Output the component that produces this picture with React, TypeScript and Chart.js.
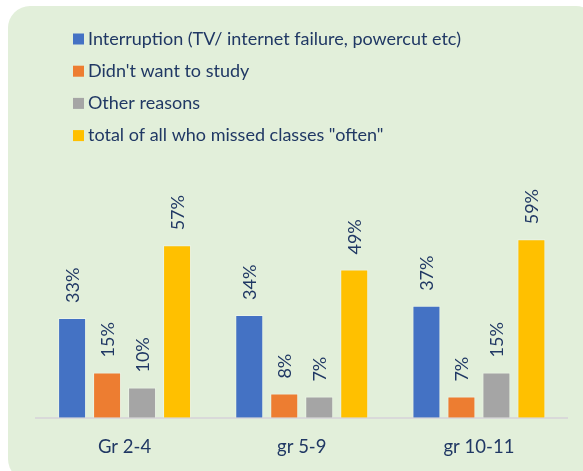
import React, { useEffect, useRef } from "react";
import { Chart, registerables } from "chart.js";

Chart.register(...registerables);

const categories = ["Gr 2-4", "gr 5-9", "gr 10-11"];
const seriesLabels = [
  "Interruption (TV/ internet failure, powercut etc)",
  "Didn't want to study",
  "Other reasons",
  'total of all who missed classes "often"',
];
const interruption = [33, 34, 37];
const didntWantToStudy = [15, 8, 7];
const otherReasons = [10, 7, 15];
const totalOften = [57, 49, 59];
const seriesColors = ["#4472c4", "#ed7d31", "#a5a5a5", "#ffc000"];

const TEXT_COLOR = "#203864";
const FONT_FAMILY = "Lato, 'Noto Sans', sans-serif";

const panelPlugin = {
  id: "panel",
  beforeDraw(chart: any) {
    const ctx = chart.ctx;
    ctx.save();
    ctx.fillStyle = "#ffffff";
    ctx.fillRect(0, 0, chart.width, chart.height);
    const x = 8, y = 6, w = 590, h = 475, r = 22;
    ctx.beginPath();
    ctx.moveTo(x + r, y);
    ctx.lineTo(x + w - r, y);
    ctx.arcTo(x + w, y, x + w, y + r, r);
    ctx.lineTo(x + w, y + h - r);
    ctx.arcTo(x + w, y + h, x + w - r, y + h, r);
    ctx.lineTo(x + r, y + h);
    ctx.arcTo(x, y + h, x, y + h - r, r);
    ctx.lineTo(x, y + r);
    ctx.arcTo(x, y, x + r, y, r);
    ctx.closePath();
    ctx.fillStyle = "#e2efda";
    ctx.fill();
    ctx.restore();
  },
};

const legendPlugin = {
  id: "customLegend",
  afterDraw(chart: any) {
    const ctx = chart.ctx;
    ctx.save();
    ctx.font = `18px ${FONT_FAMILY}`;
    ctx.textBaseline = "middle";
    ctx.textAlign = "left";
    chart.data.datasets.forEach((ds: any, i: number) => {
      const cy = 39 + i * 32.2;
      ctx.fillStyle = ds.backgroundColor;
      ctx.fillRect(73, cy - 5.5, 11, 11);
      ctx.fillStyle = TEXT_COLOR;
      ctx.fillText(ds.label, 88, cy);
    });
    ctx.restore();
  },
};

const valueLabelPlugin = {
  id: "valueLabels",
  afterDatasetsDraw(chart: any) {
    const ctx = chart.ctx;
    ctx.save();
    ctx.font = `18px ${FONT_FAMILY}`;
    ctx.fillStyle = TEXT_COLOR;
    ctx.textAlign = "left";
    ctx.textBaseline = "middle";
    chart.data.datasets.forEach((ds: any, di: number) => {
      const meta = chart.getDatasetMeta(di);
      meta.data.forEach((bar: any, i: number) => {
        ctx.save();
        ctx.translate(bar.x + 1, bar.y - 15);
        ctx.rotate(-Math.PI / 2);
        ctx.fillText(ds.data[i] + "%", 0, 0);
        ctx.restore();
      });
    });
    ctx.restore();
  },
};

export default function App() {
  const ref = useRef<HTMLCanvasElement | null>(null);
  useEffect(() => {
    if (!ref.current) return;
    const values = [interruption, didntWantToStudy, otherReasons, totalOften];
    const chart = new Chart(ref.current, {
      type: "bar",
      data: {
        labels: categories,
        datasets: values.map((v, i) => ({
          label: seriesLabels[i],
          data: v,
          backgroundColor: seriesColors[i],
          borderColor: "rgba(255,255,255,0.35)",
          borderWidth: 1,
          categoryPercentage: 0.79,
          barPercentage: 0.8,
        })),
      },
      options: {
        responsive: false,
        animation: false,
        devicePixelRatio: 1,
        layout: { padding: { left: 36, right: 15.5, top: 206, bottom: -5 } },
        plugins: { legend: { display: false }, tooltip: { enabled: false } },
        scales: {
          x: {
            grid: { display: false, drawTicks: false },
            border: { display: true, color: "#d9d9d9", width: 2 },
            ticks: {
              color: TEXT_COLOR,
              font: { size: 18.5, family: FONT_FAMILY },
              padding: 18,
            },
          },
          y: { display: false, min: 0, max: 70 },
        },
      },
      plugins: [panelPlugin, legendPlugin, valueLabelPlugin],
    });
    return () => chart.destroy();
  }, []);
  return (
    <div style={{ position: "absolute", left: 0, top: 0, width: 583, height: 471 }}>
      <canvas ref={ref} width={583} height={471} style={{ display: "block" }} />
    </div>
  );
}
